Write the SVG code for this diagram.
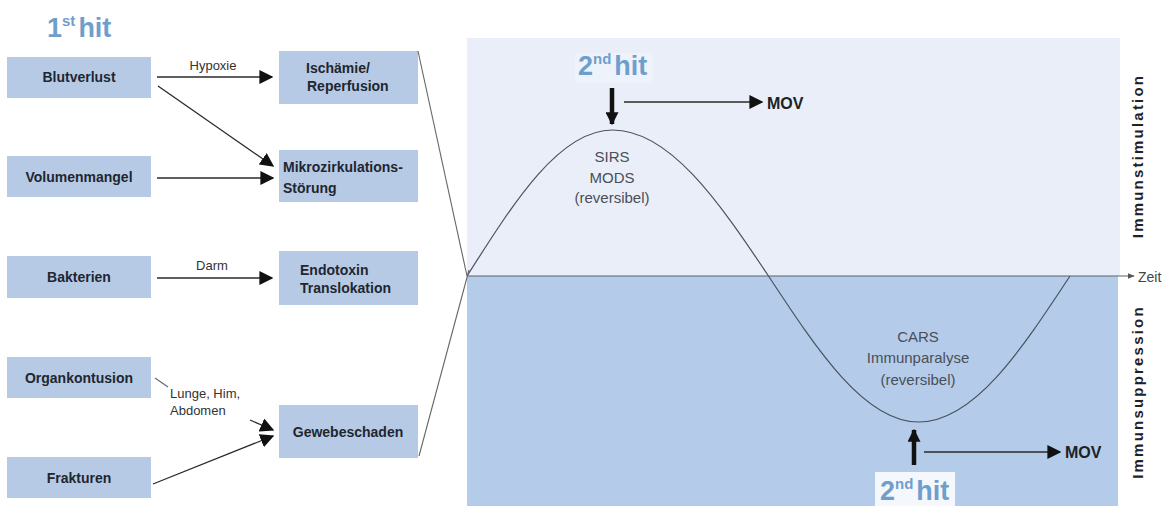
<svg xmlns="http://www.w3.org/2000/svg" width="1172" height="506" viewBox="0 0 1172 506">
<defs>
<style>
.box{fill:#b7cae5}
.bt{font-family:"Liberation Sans",Arial,sans-serif;font-size:14px;font-weight:bold;fill:#1e2630}
.lbl{font-family:"Liberation Sans",Arial,sans-serif;font-size:13px;fill:#333}
.hit{font-family:"Liberation Sans",Arial,sans-serif;font-size:27px;font-weight:bold;fill:#6e9fcc}
.sup{font-size:15px}
.cur{font-family:"Liberation Sans",Arial,sans-serif;font-size:15px;fill:#4a4f57;text-anchor:middle}
.mov{font-family:"Liberation Sans",Arial,sans-serif;font-size:16px;font-weight:bold;fill:#1e2226}
.vert{font-family:"Liberation Sans",Arial,sans-serif;font-size:15px;font-weight:bold;fill:#1e2226;text-anchor:middle;letter-spacing:2.2px}
.con{stroke:#2a2a2a;stroke-width:1.3;fill:none}
.thin{stroke:#666;stroke-width:1.1;fill:none}
</style>
<marker id="ah" viewBox="0 0 10 10" refX="9" refY="5" markerWidth="14" markerHeight="14" markerUnits="userSpaceOnUse" orient="auto"><path d="M0,0 L10,5 L0,10 z" fill="#111"/></marker>
<marker id="ahs" viewBox="0 0 10 10" refX="9" refY="5" markerWidth="7" markerHeight="7" markerUnits="userSpaceOnUse" orient="auto"><path d="M0,1 L10,5 L0,9 z" fill="#555"/></marker>
<marker id="big" viewBox="0 0 10 10" refX="9" refY="5" markerWidth="13" markerHeight="13" markerUnits="userSpaceOnUse" orient="auto"><path d="M0,0 L10,5 L0,10 z" fill="#111"/></marker>
</defs>
<rect width="1172" height="506" fill="#ffffff"/>

<g id="chart">
<rect x="467" y="38" width="653" height="238" fill="#e9eef8"/>
<rect x="467" y="276" width="651" height="230" fill="#b4cce9"/>
<rect x="575" y="53" width="78" height="30" fill="#eef3fb"/>
<rect x="875" y="472" width="80" height="34" fill="#f4f8fd"/>
<line x1="467" y1="276" x2="1134" y2="276" stroke="#5a6270" stroke-width="1.2" marker-end="url(#ahs)"/>
<text x="1138" y="282" font-family="Liberation Sans, Arial, sans-serif" font-size="14" fill="#444">Zeit</text>
<path d="M467,276 C514.5,201.2 559.5,130 612.5,130 C669.5,130 718.5,201.2 768.5,276 C817.7,350.8 864.7,422 918.5,422 C973.8,422 1020.8,350.8 1070,276" stroke="#4a5260" stroke-width="1.2" fill="none"/>
<text class="cur" x="612" y="162">SIRS</text>
<text class="cur" x="612" y="183">MODS</text>
<text class="cur" x="612" y="203">(reversibel)</text>
<text class="cur" x="918" y="342">CARS</text>
<text class="cur" x="918" y="363">Immunparalyse</text>
<text class="cur" x="918" y="385">(reversibel)</text>
<text class="vert" transform="translate(1143,156) rotate(-90)">Immunstimulation</text>
<text class="vert" transform="translate(1143,392) rotate(-90)">Immunsuppression</text>
</g>

<g id="hit1"><text class="hit" x="47" y="37">1<tspan class="sup" dy="-11">st</tspan><tspan dy="11" dx="3">hit</tspan></text></g>

<g id="hit2-top">
<text class="hit" x="578" y="75">2<tspan class="sup" dy="-11">nd</tspan><tspan dy="11" dx="3">hit</tspan></text>
<line x1="612" y1="88" x2="612" y2="124" stroke="#111" stroke-width="4.5" marker-end="url(#big)"/>
<line x1="624" y1="102" x2="762" y2="102" class="con" marker-end="url(#ah)"/>
<text class="mov" x="767" y="109">MOV</text>
</g>

<g id="hit2-bottom">
<text class="hit" x="880" y="500">2<tspan class="sup" dy="-11">nd</tspan><tspan dy="11" dx="3">hit</tspan></text>
<line x1="914" y1="465" x2="914" y2="430" stroke="#111" stroke-width="4.5" marker-end="url(#big)"/>
<line x1="924" y1="452" x2="1060" y2="452" class="con" marker-end="url(#ah)"/>
<text class="mov" x="1065" y="458">MOV</text>
</g>

<g id="n-blutverlust"><rect class="box" x="7" y="57" width="144" height="41"/><text class="bt" x="79" y="82" text-anchor="middle">Blutverlust</text></g>
<g id="n-volumenmangel"><rect class="box" x="7" y="156" width="144" height="41"/><text class="bt" x="79" y="182" text-anchor="middle">Volumenmangel</text></g>
<g id="n-bakterien"><rect class="box" x="7" y="256" width="144" height="42"/><text class="bt" x="79" y="282" text-anchor="middle">Bakterien</text></g>
<g id="n-organkontusion"><rect class="box" x="7" y="357" width="144" height="41"/><text class="bt" x="79" y="383" text-anchor="middle">Organkontusion</text></g>
<g id="n-frakturen"><rect class="box" x="7" y="457" width="144" height="41"/><text class="bt" x="79" y="483" text-anchor="middle">Frakturen</text></g>

<g id="n-ischaemie"><rect class="box" x="279" y="51" width="139" height="53"/><text class="bt" x="306" y="73">Ischämie/</text><text class="bt" x="307" y="91">Reperfusion</text></g>
<g id="n-mikro"><rect class="box" x="279" y="150" width="139" height="52"/><text class="bt" x="283" y="172">Mikrozirkulations-</text><text class="bt" x="283" y="193">Störung</text></g>
<g id="n-endotoxin"><rect class="box" x="279" y="251" width="139" height="54"/><text class="bt" x="300" y="275">Endotoxin</text><text class="bt" x="300" y="293">Translokation</text></g>
<g id="n-gewebe"><rect class="box" x="279" y="405" width="139" height="53"/><text class="bt" x="348" y="437" text-anchor="middle">Gewebeschaden</text></g>

<g id="connectors">
<line class="con" x1="157" y1="77" x2="272" y2="77" marker-end="url(#ah)"/>
<text class="lbl" x="213" y="70" text-anchor="middle">Hypoxie</text>
<line class="con" x1="158" y1="86" x2="273" y2="166" marker-end="url(#ah)"/>
<line class="con" x1="157" y1="178" x2="273" y2="178" marker-end="url(#ah)"/>
<line class="con" x1="157" y1="278" x2="272" y2="278" marker-end="url(#ah)"/>
<text class="lbl" x="212" y="270" text-anchor="middle">Darm</text>
<line class="thin" x1="155" y1="378" x2="168" y2="387"/>
<text class="lbl" x="170" y="398">Lunge, Him,</text>
<text class="lbl" x="170" y="415">Abdomen</text>
<line class="con" x1="250" y1="420" x2="273" y2="430" marker-end="url(#ah)"/>
<line class="con" x1="153" y1="484" x2="273" y2="436" marker-end="url(#ah)"/>
<line class="thin" x1="418" y1="51" x2="467" y2="276"/>
<line class="thin" x1="419" y1="456" x2="469" y2="270"/>
</g>
</svg>
